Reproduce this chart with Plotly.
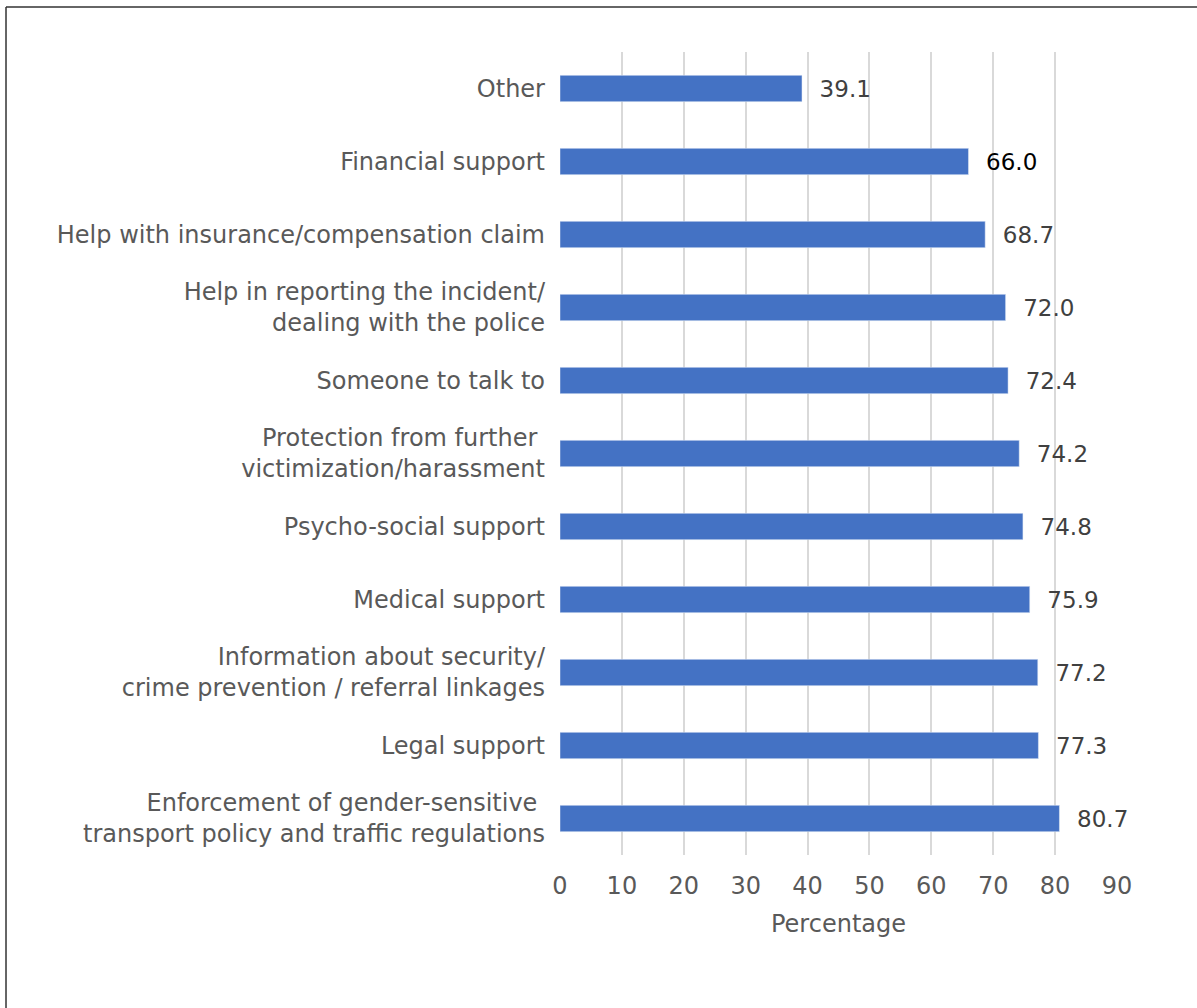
import plotly.graph_objects as go

categories = [
    "Other",
    "Financial support",
    "Help with insurance/compensation claim",
    "Help in reporting the incident/<br>dealing with the police",
    "Someone to talk to",
    "Protection from further <br>victimization/harassment",
    "Psycho-social support",
    "Medical support",
    "Information about security/<br>crime prevention / referral linkages",
    "Legal support",
    "Enforcement of gender-sensitive <br>transport policy and traffic regulations",
]
values = [39.1, 66.0, 68.7, 72.0, 72.4, 74.2, 74.8, 75.9, 77.2, 77.3, 80.7]
label_colors = ["#404040", "#000000"] + ["#404040"] * 9
x_ticks = [0, 10, 20, 30, 40, 50, 60, 70, 80, 90]

FONT = "'DejaVu Sans', sans-serif"

fig = go.Figure(go.Bar(
    y=categories,
    x=values,
    orientation="h",
    width=0.36,
    marker=dict(color="#4472C4"),
    text=["\u00a0\u00a0" + f"{v:.1f}" for v in values],
    textposition="outside",
    constraintext="none",
    textfont=dict(family=FONT, size=23, color=label_colors),
    cliponaxis=False,
))

fig.update_layout(
    width=1197, height=1008,
    margin=dict(l=560, r=80, t=52, b=153),
    paper_bgcolor="white", plot_bgcolor="white",
    showlegend=False,
    font=dict(family=FONT, size=22, color="#595959"),
    xaxis=dict(
        range=[0, 90], tickvals=x_ticks, showgrid=True, gridcolor="#d9d9d9",
        gridwidth=2, zeroline=False, showline=False, ticks="",
        ticklabelstandoff=14,
        tickfont=dict(size=24, color="#595959"),
        title=dict(text="Percentage", font=dict(size=24, color="#595959"), standoff=16),
    ),
    yaxis=dict(
        autorange="reversed", showgrid=False, zeroline=False, showline=False,
        ticks="", ticklabelstandoff=14,
        tickfont=dict(size=24, color="#595959"),
    ),
    shapes=[
        dict(type="line", xref="paper", yref="paper", x0=-0.9946, x1=1.3,
             y0=1.056, y1=1.056, line=dict(color="#333333", width=1.5)),
        dict(type="line", xref="paper", yref="paper", x0=-0.9946, x1=-0.9946,
             y0=-0.3, y1=1.056, line=dict(color="#333333", width=1.5)),
    ],
)

fig.write_html("out.html", config={"displayModeBar": False},
               post_script="document.body.style.margin='0';")
